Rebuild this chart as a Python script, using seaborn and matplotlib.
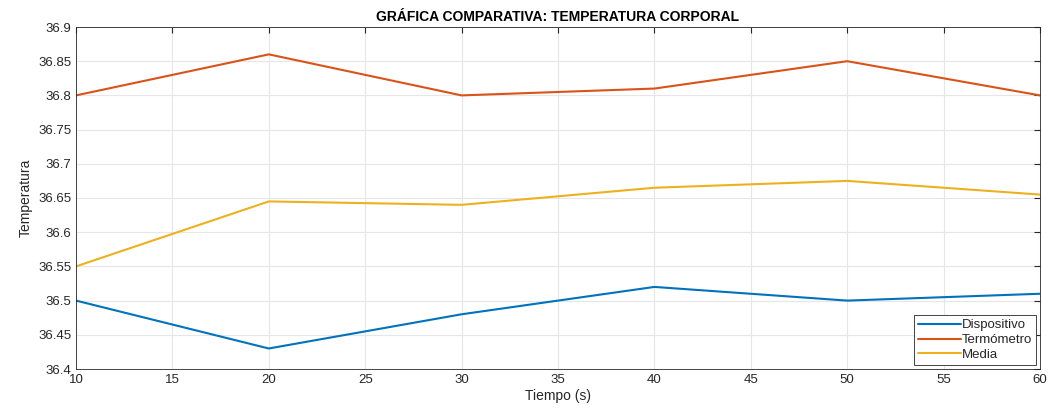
import matplotlib
matplotlib.use("Agg")
import matplotlib.pyplot as plt
import seaborn as sns
import pandas as pd

tiempo = [10, 20, 30, 40, 50, 60]
dispositivo = [36.50, 36.43, 36.48, 36.52, 36.50, 36.51]
termometro = [36.80, 36.86, 36.80, 36.81, 36.85, 36.80]
media = [36.55, 36.645, 36.64, 36.665, 36.675, 36.655]
series_names = ["Dispositivo", "Termómetro", "Media"]
colors = ["#0072BD", "#D95319", "#EDB120"]

df = pd.DataFrame({"Tiempo": tiempo * 3,
                   "Temp": dispositivo + termometro + media,
                   "Serie": [series_names[0]] * 6 + [series_names[1]] * 6 + [series_names[2]] * 6})

sns.set_style("whitegrid")
plt.rcParams['font.family'] = ['Liberation Sans', 'DejaVu Sans']

fig = plt.figure(figsize=(10.5, 4.09), dpi=100)
ax = fig.add_axes([76/1050, 40/409, (1040-76)/1050, (369-27)/409])
sns.lineplot(data=df, x="Tiempo", y="Temp", hue="Serie", palette=colors,
             linewidth=1.5, ax=ax)

ax.set_xlim(10, 60)
ax.set_ylim(36.4, 36.9)
ax.set_xticks(range(10, 61, 5))
ax.set_yticks([36.4 + 0.05 * i for i in range(11)])
ax.set_yticklabels([f"{36.4 + 0.05 * i:g}" for i in range(11)])
ax.grid(True, color="#e6e6e6", linewidth=0.8)
for s in ax.spines.values():
    s.set_color("#262626")
    s.set_linewidth(0.6)
ax.tick_params(direction="in", length=4, colors="#262626", labelsize=9.5,
               top=True, right=True, labelcolor="#262626")
ax.set_xlabel("Tiempo (s)", fontsize=10, color="#262626", labelpad=2)
ax.set_ylabel("Temperatura", fontsize=10, color="#262626", labelpad=4)
ax.set_title("GRÁFICA COMPARATIVA: TEMPERATURA CORPORAL", fontsize=10,
             fontweight="bold", color="#000000", pad=4)
leg = ax.legend(loc="lower right", fontsize=9.5, frameon=True, fancybox=False,
                edgecolor="#262626", framealpha=1, handlelength=3.2,
                borderpad=0.3, labelspacing=0.2, handletextpad=0.1,
                borderaxespad=0.3)
leg.get_frame().set_linewidth(0.6)
fig.savefig("out.png", dpi=100)
